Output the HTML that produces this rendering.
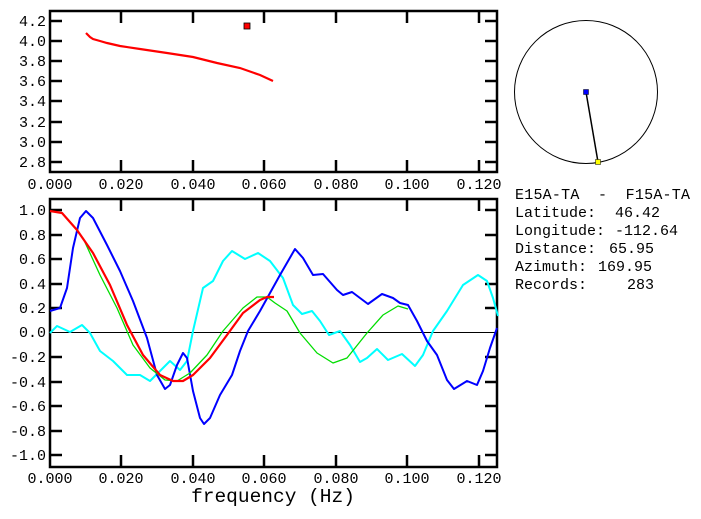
<!DOCTYPE html>
<html><head><meta charset="utf-8"><style>
html,body{margin:0;padding:0;background:#fff;}
svg{display:block;}
text{font-family:"Liberation Mono",monospace;fill:#000;}
</style></head><body>
<svg width="701" height="519" viewBox="0 0 701 519" xmlns="http://www.w3.org/2000/svg">
<g stroke="#000" stroke-width="2.5" fill="none">
<rect x="50" y="11" width="447" height="161"/>
</g>
<g stroke="#000" stroke-width="2.5">
<line x1="50" y1="21" x2="62" y2="21"/><line x1="50" y1="41" x2="62" y2="41"/><line x1="50" y1="61" x2="62" y2="61"/><line x1="50" y1="81" x2="62" y2="81"/><line x1="50" y1="101" x2="62" y2="101"/><line x1="50" y1="122" x2="62" y2="122"/><line x1="50" y1="142" x2="62" y2="142"/><line x1="50" y1="162" x2="62" y2="162"/>
<line x1="485" y1="21" x2="497" y2="21"/><line x1="485" y1="41" x2="497" y2="41"/><line x1="485" y1="61" x2="497" y2="61"/><line x1="485" y1="81" x2="497" y2="81"/><line x1="485" y1="101" x2="497" y2="101"/><line x1="485" y1="122" x2="497" y2="122"/><line x1="485" y1="142" x2="497" y2="142"/><line x1="485" y1="162" x2="497" y2="162"/>
<line x1="121" y1="11" x2="121" y2="23"/><line x1="193" y1="11" x2="193" y2="23"/><line x1="264" y1="11" x2="264" y2="23"/><line x1="336" y1="11" x2="336" y2="23"/><line x1="407" y1="11" x2="407" y2="23"/><line x1="479" y1="11" x2="479" y2="23"/>
<line x1="121" y1="160" x2="121" y2="172"/><line x1="193" y1="160" x2="193" y2="172"/><line x1="264" y1="160" x2="264" y2="172"/><line x1="336" y1="160" x2="336" y2="172"/><line x1="407" y1="160" x2="407" y2="172"/><line x1="479" y1="160" x2="479" y2="172"/>
</g>
<g font-size="15" text-anchor="end">
<text x="46" y="26">4.2</text><text x="46" y="46">4.0</text><text x="46" y="66">3.8</text><text x="46" y="86">3.6</text><text x="46" y="106">3.4</text><text x="46" y="127">3.2</text><text x="46" y="147">3.0</text><text x="46" y="167">2.8</text>
</g>
<g font-size="15" text-anchor="middle">
<text x="50" y="189">0.000</text><text x="121" y="189">0.020</text><text x="193" y="189">0.040</text><text x="264" y="189">0.060</text><text x="336" y="189">0.080</text><text x="407" y="189">0.100</text><text x="479" y="189">0.120</text>
</g>
<polyline fill="none" stroke="#f00" stroke-width="2.2" points="86,33 90,37 93,39 100,41 107,43 120,46 140,49 167,53 193,57 217,63 240,68 260,75 273,81"/>
<rect x="244" y="23" width="6" height="6" fill="#f00" stroke="#000" stroke-width="0.8"/>

<rect x="50" y="199" width="447" height="268" fill="none" stroke="#000" stroke-width="2.5"/>
<line x1="50" y1="332.5" x2="497" y2="332.5" stroke="#000" stroke-width="1"/>
<g stroke="#000" stroke-width="2.5">
<line x1="50" y1="210" x2="62" y2="210"/><line x1="50" y1="235" x2="62" y2="235"/><line x1="50" y1="259" x2="62" y2="259"/><line x1="50" y1="284" x2="62" y2="284"/><line x1="50" y1="308" x2="62" y2="308"/><line x1="50" y1="357" x2="62" y2="357"/><line x1="50" y1="382" x2="62" y2="382"/><line x1="50" y1="406" x2="62" y2="406"/><line x1="50" y1="431" x2="62" y2="431"/><line x1="50" y1="455" x2="62" y2="455"/>
<line x1="485" y1="210" x2="497" y2="210"/><line x1="485" y1="235" x2="497" y2="235"/><line x1="485" y1="259" x2="497" y2="259"/><line x1="485" y1="284" x2="497" y2="284"/><line x1="485" y1="308" x2="497" y2="308"/><line x1="485" y1="357" x2="497" y2="357"/><line x1="485" y1="382" x2="497" y2="382"/><line x1="485" y1="406" x2="497" y2="406"/><line x1="485" y1="431" x2="497" y2="431"/><line x1="485" y1="455" x2="497" y2="455"/>
<line x1="121" y1="199" x2="121" y2="211"/><line x1="193" y1="199" x2="193" y2="211"/><line x1="264" y1="199" x2="264" y2="211"/><line x1="336" y1="199" x2="336" y2="211"/><line x1="407" y1="199" x2="407" y2="211"/><line x1="479" y1="199" x2="479" y2="211"/>
<line x1="121" y1="455" x2="121" y2="467"/><line x1="193" y1="455" x2="193" y2="467"/><line x1="264" y1="455" x2="264" y2="467"/><line x1="336" y1="455" x2="336" y2="467"/><line x1="407" y1="455" x2="407" y2="467"/><line x1="479" y1="455" x2="479" y2="467"/>
</g>
<g font-size="15" text-anchor="end">
<text x="46" y="215">1.0</text><text x="46" y="240">0.8</text><text x="46" y="264">0.6</text><text x="46" y="289">0.4</text><text x="46" y="313">0.2</text><text x="46" y="337">0.0</text><text x="46" y="362">-0.2</text><text x="46" y="387">-0.4</text><text x="46" y="411">-0.6</text><text x="46" y="436">-0.8</text><text x="46" y="460">-1.0</text>
</g>
<g font-size="15" text-anchor="middle">
<text x="50" y="483">0.000</text><text x="121" y="483">0.020</text><text x="193" y="483">0.040</text><text x="264" y="483">0.060</text><text x="336" y="483">0.080</text><text x="407" y="483">0.100</text><text x="479" y="483">0.120</text>
</g>
<text x="273" y="502" font-size="19.5" text-anchor="middle">frequency (Hz)</text>

<polyline fill="none" stroke="#0ff" stroke-width="2" stroke-linejoin="round" points="50,333 57,326 70,332 82,325 90,333 100,351 113,361 127,375 140,375 150,381 160,371 170,361 180,370 187,361 193,331 203,288 213,281 223,261 232,251 245,259 258,253 270,261 283,278 293,305 302,314 312,311 320,321 329,335 340,331 350,345 360,362 367,358 377,349 388,360 402,354 415,366 423,355 433,331 447,311 463,285 478,275 487,281 493,298 498,316"/>
<polyline fill="none" stroke="#00f" stroke-width="2" stroke-linejoin="round" points="50,311 60,308 67,288 73,248 80,218 86,211 93,218 107,245 120,271 133,301 147,338 157,375 165,389 170,385 177,365 183,353 187,358 193,391 200,418 204,424 210,418 220,395 232,375 240,351 248,331 260,311 270,293 280,275 295,249 303,258 313,275 323,274 337,290 343,295 352,292 368,304 382,294 393,298 400,303 408,305 417,321 427,341 437,355 447,380 454,389 467,381 477,385 483,371 490,348 497,328"/>
<polyline fill="none" stroke="#0d0" stroke-width="1.3" stroke-linejoin="round" points="83,238 100,275 117,308 133,345 150,368 165,380 177,381 190,373 207,355 223,331 243,308 257,297 267,297 275,303 287,311 300,333 317,353 333,363 347,358 367,333 383,315 398,306 408,309"/>
<polyline fill="none" stroke="#f00" stroke-width="2.2" stroke-linejoin="round" points="50,211 62,213 77,230 93,253 110,285 127,325 143,355 160,375 173,381 183,381 193,375 210,358 227,335 243,313 260,300 267,297 274,297"/>

<circle cx="586" cy="92" r="71.5" fill="none" stroke="#000" stroke-width="1"/>
<line x1="586" y1="92" x2="598" y2="162" stroke="#000" stroke-width="1.5"/>
<rect x="583.5" y="89.5" width="5" height="5" fill="#00f" stroke="#000" stroke-width="0.5"/>
<rect x="595.5" y="159.5" width="5" height="5" fill="#ff0" stroke="#000" stroke-width="0.5"/>

<g font-size="15">
<text x="515" y="199" textLength="175" xml:space="preserve">E15A-TA  -  F15A-TA</text>
<text x="515" y="217">Latitude:</text><text x="660" y="217" text-anchor="end">46.42</text>
<text x="515" y="235">Longitude:</text><text x="678" y="235" text-anchor="end">-112.64</text>
<text x="515" y="253">Distance:</text><text x="654" y="253" text-anchor="end">65.95</text>
<text x="515" y="271">Azimuth:</text><text x="652" y="271" text-anchor="end">169.95</text>
<text x="515" y="289">Records:</text><text x="654" y="289" text-anchor="end">283</text>
</g>
</svg>
</body></html>
